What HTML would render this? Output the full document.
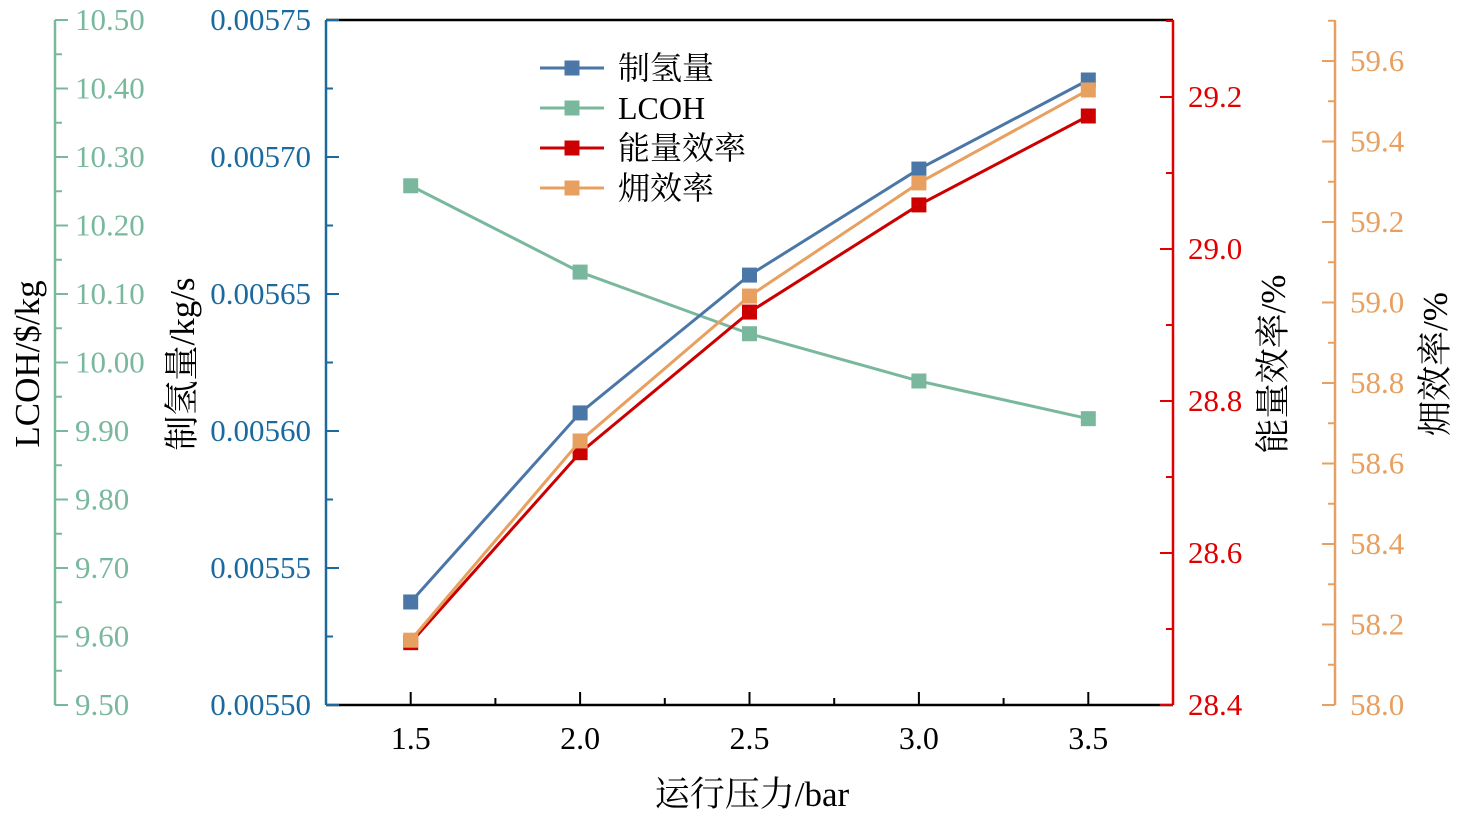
<!DOCTYPE html>
<html><head><meta charset="utf-8"><style>
body{margin:0;background:#fff}
svg text{font-family:"Liberation Serif","Noto Serif CJK SC","Noto Sans CJK SC",serif}
</style></head><body>
<svg id="c" width="1462" height="819" xmlns="http://www.w3.org/2000/svg"></svg>
<script>
const categories=[1.5,2.0,2.5,3.0,3.5];
const h2Values=[0.0055376,0.0056066,0.0056569,0.0056956,0.0057281];
const lcohValues=[10.258,10.132,10.042,9.973,9.918];
const energyEff=[28.482,28.732,28.917,29.058,29.175];
const exergyEff=[58.161,58.656,59.016,59.297,59.528];
const xTicks=["1.5","2.0","2.5","3.0","3.5"];
const h2Ticks=["0.00550","0.00555","0.00560","0.00565","0.00570","0.00575"];
const lcohTicks=["9.50","9.60","9.70","9.80","9.90","10.00","10.10","10.20","10.30","10.40","10.50"];
const redTicks=["28.4","28.6","28.8","29.0","29.2"];
const orTicks=["58.0","58.2","58.4","58.6","58.8","59.0","59.2","59.4","59.6"];

const svg=document.getElementById('c');const NS='http://www.w3.org/2000/svg';
function el(t,a,txt){const e=document.createElementNS(NS,t);for(const k in a)e.setAttribute(k,a[k]);if(txt!==undefined)e.textContent=txt;svg.appendChild(e);return e;}
const L=326,R=1173,T=20,B=705;
const xS=v=>L+(v-1.25)/2.5*(R-L);
const yB=v=>B-(v-0.0055)/0.00025*(B-T);
const yL=v=>B-(v-9.5)/1.0*(B-T);
const yR=v=>B-(v-28.4)*760;
const yO=v=>B-(v-58)*402.5;
const cB='#1a6aa0',cG='#7ab89e',cR='#e00000',cO='#e8a060';
const TF=31;

let e=el('line',{x1:L,y1:T,x2:R,y2:T,stroke:'#000','stroke-width':2.5});
e=el('line',{x1:L,y1:B,x2:R,y2:B,stroke:'#000','stroke-width':2.5});
for(let v=1.25;v<=3.751;v+=0.25){const maj=Math.abs((v*2)%1)<0.01;
 const t=el('line',{x1:xS(v),x2:xS(v),y1:B,y2:B-(maj?13:7),stroke:'#000','stroke-width':2});}
xTicks.forEach((s,i)=>{const t=el('text',{x:xS(categories[i]),y:749,'text-anchor':'middle','font-size':32,fill:'#000'},s);});
e=el('text',{x:752,y:806,'text-anchor':'middle','font-size':35,fill:'#000'},'运行压力/bar');

e=el('line',{x1:L,y1:T,x2:L,y2:B,stroke:cB,'stroke-width':2.5});
for(let k=0;k<=10;k++){const v=0.0055+k*0.000025;const t=el('line',{x1:L,x2:L+(k%2?7:13),y1:yB(v),y2:yB(v),stroke:cB,'stroke-width':2});}
h2Ticks.forEach(s=>{const t=el('text',{x:311,y:yB(+s)+10,'text-anchor':'end','font-size':TF,fill:cB},s);});
e=el('text',{x:0,y:0,transform:'translate(194,364) rotate(-90)','text-anchor':'middle','font-size':35,fill:'#000'},'制氢量/kg/s');

const LX=55;
e=el('line',{x1:LX,y1:T,x2:LX,y2:B,stroke:cG,'stroke-width':2.5});
for(let k=0;k<=20;k++){const v=9.5+k*0.05;const t=el('line',{x1:LX,x2:LX+(k%2?7:13),y1:yL(v),y2:yL(v),stroke:cG,'stroke-width':2});}
lcohTicks.forEach(s=>{const t=el('text',{x:75,y:yL(+s)+10,'font-size':TF,fill:cG},s);});
e=el('text',{x:0,y:0,transform:'translate(39,364) rotate(-90)','text-anchor':'middle','font-size':35,fill:'#000'},'LCOH/$/kg');

e=el('line',{x1:R,y1:T,x2:R,y2:B,stroke:cR,'stroke-width':2.5});
for(let k=0;k<=9;k++){const v=28.4+k*0.1;const t=el('line',{x1:R,x2:R-(k%2?7:13),y1:yR(v),y2:yR(v),stroke:cR,'stroke-width':2});}
redTicks.forEach(s=>{const t=el('text',{x:1188,y:yR(+s)+10,'font-size':TF,fill:cR},s);});
e=el('text',{x:0,y:0,transform:'translate(1285,364) rotate(-90)','text-anchor':'middle','font-size':35,fill:'#000'},'能量效率/%');

const OX=1335;
e=el('line',{x1:OX,y1:T,x2:OX,y2:B,stroke:cO,'stroke-width':2.5});
for(let k=0;k<=17;k++){const v=58+k*0.1;const t=el('line',{x1:OX,x2:OX-(k%2?7:13),y1:yO(v),y2:yO(v),stroke:cO,'stroke-width':2});}
orTicks.forEach(s=>{const t=el('text',{x:1350,y:yO(+s)+10,'font-size':TF,fill:cO},s);});
e=el('text',{x:0,y:0,transform:'translate(1447,364) rotate(-90)','text-anchor':'middle','font-size':35,fill:'#000'},'㶲效率/%');

function series(vals,yf,col,name){
 const pts=vals.map((v,i)=>xS(categories[i])+','+yf(v)).join(' ');
 const p=el('polyline',{points:pts,fill:'none',stroke:col,'stroke-width':3});
 
 
 vals.forEach((v,i)=>{const m=el('rect',{x:xS(categories[i])-7.5,y:yf(v)-7.5,width:15,height:15,fill:col});
  
  });
}
series(lcohValues,yL,'#7ab89e','lcoh');
series(h2Values,yB,'#4a76a8','h2');
series(energyEff,yR,'#cc0000','energy');
series(exergyEff,yO,'#e8a060','exergy');

const leg=[['制氢量','#4a76a8'],['LCOH','#7ab89e'],['能量效率','#cc0000'],['㶲效率','#e8a060']];
leg.forEach((d,i)=>{const y=68+i*40;
 const l=el('line',{x1:540,x2:604,y1:y,y2:y,stroke:d[1],'stroke-width':3});
 const r=el('rect',{x:564.5,y:y-7.5,width:15,height:15,fill:d[1]});
 const t=el('text',{x:618,y:y+11,'font-size':32,fill:'#000'},d[0]);});
</script>
</body></html>
